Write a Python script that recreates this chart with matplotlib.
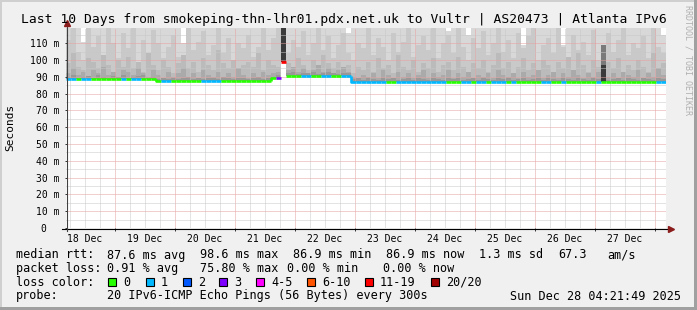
import numpy as np
import matplotlib
matplotlib.use("Agg")
import matplotlib.pyplot as plt
import matplotlib.transforms as mtransforms
from matplotlib.patches import Rectangle
from matplotlib.collections import LineCollection

# ---- data (2 hour bins, 120 of them) ----
title = "Last 10 Days from smokeping-thn-lhr01.pdx.net.uk to Vultr | AS20473 | Atlanta IPv6"
day_labels = ["18 Dec", "19 Dec", "20 Dec", "21 Dec", "22 Dec",
              "23 Dec", "24 Dec", "25 Dec", "26 Dec", "27 Dec"]
y_ticks = [0, 10, 20, 30, 40, 50, 60, 70, 80, 90, 100, 110]
y_tick_labels = ["0  ", "10 m", "20 m", "30 m", "40 m", "50 m", "60 m",
                 "70 m", "80 m", "90 m", "100 m", "110 m"]
start_day = 0.1818   # 18 Dec 04:21 (days since 18 Dec 00:00)
n_bins = 120

median = [88.5, 88.5, 88.5, 88.5, 88.5, 88.5, 88.5, 88.5, 88.5, 88.5, 88.5, 88.5,
          88.5, 88.5, 88.5, 88.5, 88.5, 88.5, 87.3, 87.3, 87.3, 87.3, 87.3, 87.3,
          87.3, 87.3, 87.3, 87.3, 87.3, 87.3, 87.3, 87.3, 87.3, 87.3, 87.3, 87.3,
          87.3, 87.3, 87.3, 87.3, 87.3, 89.0, 89.5, 98.8, 90.5, 90.5, 90.5, 90.5,
          90.5, 90.5, 90.5, 90.5, 90.5, 90.5, 90.5, 90.5, 90.5, 87.0, 87.0, 87.0,
          87.0, 87.0, 87.0, 87.0, 87.0, 87.0, 87.0, 87.0, 87.0, 87.0, 87.0, 87.0,
          87.0, 87.0, 87.0, 87.0, 87.0, 87.0, 87.0, 87.0, 87.0, 87.0, 87.0, 87.0,
          87.0, 87.0, 87.0, 87.0, 87.0, 87.0, 87.0, 87.0, 87.0, 87.0, 87.0, 87.0,
          87.0, 87.0, 87.0, 87.0, 87.0, 87.0, 87.0, 87.0, 87.0, 87.0, 87.0, 87.0,
          87.0, 87.0, 87.0, 87.0, 87.0, 87.0, 87.0, 87.0, 87.0, 87.0, 87.0, 87.0]

# loss class per bin: 0 -> "0", 1 -> "1", ... 6 -> "11-19", 7 -> "20/20"
loss = [1, 1, 0, 1, 1, 0, 0, 0, 0, 0, 0, 1,
        0, 1, 1, 0, 0, 0, 0, 1, 1, 0, 0, 0,
        0, 0, 0, 1, 1, 1, 1, 0, 0, 0, 0, 0,
        0, 0, 0, 0, 0, 0, 3, 6, 0, 0, 0, 1,
        1, 0, 0, 1, 1, 0, 0, 1, 1, 1, 1, 1,
        1, 1, 1, 1, 0, 0, 1, 1, 1, 1, 1, 1,
        1, 1, 1, 1, 0, 0, 0, 1, 1, 0, 1, 1,
        0, 1, 1, 1, 0, 1, 0, 0, 0, 0, 0, 1,
        1, 0, 0, 1, 0, 0, 0, 0, 0, 0, 1, 0,
        0, 0, 0, 0, 0, 0, 0, 0, 0, 0, 1, 1]

# smoke layer tops (ms), lightest first
smoke1 = [120, 120, 120, 111, 120, 120, 120, 120, 120, 120, 120, 120,
          120, 120, 120, 120, 120, 120, 120, 120, 120, 120, 120, 110,
          120, 120, 120, 120, 120, 120, 120, 120, 120, 120, 120, 120,
          120, 120, 120, 120, 120, 120, 120, 120, 120, 120, 120, 120,
          120, 120, 120, 120, 120, 120, 120, 120, 116, 120, 120, 120,
          120, 120, 120, 120, 120, 120, 120, 120, 120, 120, 120, 120,
          120, 120, 120, 120, 117, 120, 120, 120, 115, 120, 120, 120,
          120, 120, 120, 120, 120, 120, 120, 109, 120, 120, 120, 120,
          120, 120, 120, 109, 120, 120, 120, 120, 120, 120, 120, 120,
          120, 120, 120, 120, 120, 120, 120, 120, 120, 120, 120, 115]
smoke2 = [112, 119, 105, 100, 119, 108, 114, 103, 119, 110, 101, 116,
          107, 119, 99, 112, 104, 118, 110, 101, 108, 115, 102, 100,
          119, 106, 111, 117, 103, 109, 119, 104, 113, 100, 110, 107,
          115, 102, 108, 119, 106, 113, 119, 119, 104, 112, 108, 117,
          103, 110, 119, 106, 114, 101, 109, 116, 104, 100, 110, 107,
          119, 103, 113, 108, 100, 116, 105, 111, 119, 102, 109, 114,
          106, 119, 101, 110, 115, 104, 119, 108, 100, 113, 107, 117,
          103, 110, 119, 105, 112, 101, 116, 107, 114, 119, 100, 109,
          113, 104, 119, 108, 102, 115, 106, 111, 103, 118, 100, 109,
          116, 105, 112, 119, 103, 110, 107, 114, 101, 119, 108, 104]
smoke3 = [98, 104, 96, 94, 101, 99, 95, 103, 97, 93, 100, 96,
          102, 95, 99, 93, 104, 97, 94, 100, 96, 92, 98, 103,
          95, 99, 93, 101, 97, 94, 106, 98, 95, 100, 93, 97,
          99, 96, 104, 94, 100, 97, 96, 119, 98, 95, 101, 97,
          94, 100, 96, 103, 98, 95, 99, 93, 97, 92, 96, 94,
          99, 93, 101, 95, 97, 92, 103, 96, 94, 100, 93, 98,
          95, 101, 93, 97, 99, 94, 102, 96, 92, 98, 95, 100,
          93, 97, 104, 95, 99, 92, 96, 101, 94, 98, 93, 100,
          97, 93, 99, 95, 102, 94, 104, 97, 93, 100, 96, 92,
          99, 95, 101, 93, 97, 94, 100, 96, 93, 104, 95, 98]
smoke4 = [92, 95, 91, 93, 90, 94, 92, 96, 91, 93, 90, 94,
          93, 91, 95, 92, 90, 94, 91, 89, 93, 90, 92, 95,
          90, 92, 89, 94, 91, 90, 93, 89, 92, 90, 95, 91,
          89, 92, 90, 93, 91, 92, 93, 119, 94, 96, 93, 95,
          92, 94, 97, 93, 95, 92, 94, 96, 93, 90, 89, 91,
          90, 92, 89, 94, 91, 89, 93, 90, 92, 89, 91, 94,
          89, 92, 90, 91, 94, 89, 92, 90, 93, 89, 91, 90,
          92, 89, 94, 91, 90, 92, 89, 93, 90, 91, 94, 89,
          91, 93, 89, 92, 90, 94, 91, 89, 92, 90, 93, 91,
          90, 92, 89, 93, 91, 90, 94, 89, 92, 90, 95, 91]
smoke5 = [90, 91, 89.5, 90, 90.5, 89.5, 91, 90, 89.5, 90.5, 90, 91,
          89.5, 90, 90.5, 91, 89.5, 90, 88.5, 89, 88.5, 89.5, 88.5, 89,
          90, 88.5, 89, 88.5, 89.5, 89, 88.5, 90, 89, 88.5, 89.5, 89,
          88.5, 89, 90, 88.5, 89, 90, 91, 119, 92, 93, 91.5, 92.5,
          92, 93, 91.5, 92, 93, 92, 91.5, 92.5, 92, 88.5, 89, 88,
          89.5, 88.5, 88, 89, 88.5, 89.5, 88, 88.5, 89, 88, 89.5, 88.5,
          88, 89, 88.5, 88, 89.5, 88.5, 89, 88, 88.5, 89, 88, 89.5,
          88.5, 88, 89, 88.5, 89.5, 88, 88.5, 89, 88, 88.5, 89.5, 88,
          89, 88.5, 88, 89.5, 88.5, 88, 89, 88.5, 88, 89, 88.5, 89,
          88, 88.5, 89.5, 88, 89, 88.5, 88, 89, 88.5, 88, 89.5, 88.5]
spike_bins = [43, 107]
spike_top = [119.5, 109]
spike_core = [119.5, 97]

smoke_colors = ["#d8d8d8", "#c9c9c9", "#bbbbbb", "#aaaaaa", "#989898"]
loss_colors = ["#26ff00", "#00b8ff", "#0059ff", "#7e00ff",
               "#ff00ff", "#ff5500", "#ff0000", "#a10000"]
loss_names = ["0", "1", "2", "3", "4-5", "6-10", "11-19", "20/20"]

# legend rows: (x px, text)
rtt_row = [(16, "median rtt:"), (107, "87.6 ms avg"), (200, "98.6 ms max"),
           (293, "86.9 ms min"), (386, "86.9 ms now"), (479, "1.3 ms sd"),
           (558, "67.3"), (607, "am/s")]
loss_row = [(16, "packet loss:"), (107, "0.91 % avg"), (200, "75.80 % max"),
            (287, "0.00 % min"), (383, "0.00 % now")]
box_x = [108, 146, 183, 219, 256, 307, 365, 431]
probe_text = "20 IPv6-ICMP Echo Pings (56 Bytes) every 300s"
date_text = "Sun Dec 28 04:21:49 2025"

# ---- figure ----
W, H = 697, 310


def fx(px):
    return px / W


def fy(py):
    return 1 - py / H


mono = "DejaVu Sans Mono"
plt.rcParams["font.family"] = mono

fig = plt.figure(figsize=(W / 100, H / 100), dpi=100, facecolor="#f0f0f0")
ax = fig.add_axes([fx(66), fy(228), 600 / W, 200 / H])
ax.set_facecolor("white")

edges = start_day + np.arange(n_bins + 1) / 12.0
med = np.array(median)

for top, col in zip([smoke1, smoke2, smoke3, smoke4, smoke5], smoke_colors):
    ax.stairs(np.array(top, dtype=float), edges, baseline=med, fill=True,
              color=col, linewidth=0, zorder=1)

for b, t1, t2 in zip(spike_bins, spike_top, spike_core):
    ax.fill_between([edges[b], edges[b + 1]], median[b], t1, color="#7a7a7a",
                    linewidth=0, zorder=1.2)
    ax.fill_between([edges[b], edges[b + 1]], median[b], t2, color="#3a3a3a",
                    linewidth=0, zorder=1.3)

# median line, coloured by loss; verticals only between same colours
segs = []
cols = []
for i in range(n_bins):
    if i > 0 and loss[i] == loss[i - 1]:
        segs.append([(edges[i], median[i - 1]), (edges[i], median[i]),
                     (edges[i + 1], median[i])])
    else:
        segs.append([(edges[i], median[i]), (edges[i + 1], median[i])])
    cols.append(loss_colors[loss[i]])
ax.add_collection(LineCollection(segs, colors=cols, linewidths=1.9,
                                 capstyle="butt", zorder=3))

ax.set_xlim(start_day, start_day + 10)
ax.set_ylim(0, 119.05)

# grid
ax.set_xticks(np.arange(1, 11))
ax.set_xticks(np.arange(0.25, 10.2, 0.25), minor=True)
ax.set_yticks(y_ticks)
ax.set_yticks(np.arange(5, 119, 10), minor=True)
ax.grid(which="minor", color="#c8c8c8", linestyle=(0, (1, 1)), linewidth=0.72)
ax.grid(which="major", color="#e7a0a0", linestyle=(0, (1, 1)), linewidth=0.72)
ax.set_xticklabels([])
ax.set_yticklabels(y_tick_labels, fontsize=7, family=mono)
ax.tick_params(axis="y", which="major", length=2, width=0.7, color="#333333",
               direction="inout", pad=4)
ax.tick_params(axis="y", which="minor", length=0)
ax.tick_params(axis="x", which="major", length=2, width=0.7, color="#333333",
               direction="out", pad=2)
ax.tick_params(axis="x", which="minor", length=0)
for s in ax.spines.values():
    s.set_visible(False)

# axis lines with arrows
fig.add_artist(plt.Line2D([fx(62), fx(670)], [fy(228.5), fy(228.5)],
                          color="black", linewidth=0.8))
fig.add_artist(plt.Line2D([fx(66.5), fx(66.5)], [fy(231), fy(24)],
                          color="#404040", linewidth=0.8))
fig.add_artist(plt.Line2D([fx(671)], [fy(228.5)], marker=">", markersize=4,
                          color="#8b1c1c", linestyle="none"))
fig.add_artist(plt.Line2D([fx(66.5)], [fy(23)], marker="^", markersize=4,
                          color="#8b1c1c", linestyle="none"))

# day labels at noon
trans = mtransforms.blended_transform_factory(ax.transData, fig.transFigure)
for d, lab in enumerate(day_labels):
    ax.text(d + 0.5, fy(238.5), lab, transform=trans, ha="center", va="center",
            fontsize=7, family=mono, color="black")

# title and side texts
fig.text(fx(344), fy(19), title, ha="center", va="center", fontsize=9.4,
         family=mono, color="black")
fig.text(fx(10), fy(127), "Seconds", rotation=90, ha="center", va="center",
         fontsize=8, family=mono, color="black")
fig.text(fx(688), fy(60), "RRDTOOL / TOBI OETIKER", rotation=270, ha="center",
         va="center", fontsize=6, family=mono, color="#b0b0b0")

# legend
fs = 8.5
for x, t in rtt_row:
    fig.text(fx(x), fy(255), t, ha="left", va="center", fontsize=fs, family=mono)
for x, t in loss_row:
    fig.text(fx(x), fy(268.5), t, ha="left", va="center", fontsize=fs, family=mono)
fig.text(fx(16), fy(282), "loss color:", ha="left", va="center", fontsize=fs,
         family=mono)
for x, c, name in zip(box_x, loss_colors, loss_names):
    fig.add_artist(Rectangle((fx(x), fy(286)), 8 / W, 8 / H, facecolor=c,
                             edgecolor="black", linewidth=0.8,
                             transform=fig.transFigure))
    fig.text(fx(x + 15), fy(282), name, ha="left", va="center", fontsize=fs,
             family=mono)
fig.text(fx(16), fy(296), "probe:", ha="left", va="center", fontsize=fs,
         family=mono)
fig.text(fx(107), fy(296), probe_text, ha="left", va="center", fontsize=fs,
         family=mono)
fig.text(fx(681), fy(296), date_text, ha="right", va="center", fontsize=fs,
         family=mono)

# canvas shading border
fig.add_artist(Rectangle((0, fy(2)), 1, 2 / H, facecolor="#cfcfcf",
                         linewidth=0, transform=fig.transFigure))
fig.add_artist(Rectangle((0, 0), 2 / W, 1, facecolor="#cfcfcf",
                         linewidth=0, transform=fig.transFigure))
fig.add_artist(Rectangle((0, 0), 1, 3 / H, facecolor="#a0a0a0",
                         linewidth=0, transform=fig.transFigure))
fig.add_artist(Rectangle((fx(694), 0), 3 / W, 1, facecolor="#a0a0a0",
                         linewidth=0, transform=fig.transFigure))

fig.savefig("out.png", dpi=100, facecolor=fig.get_facecolor())
